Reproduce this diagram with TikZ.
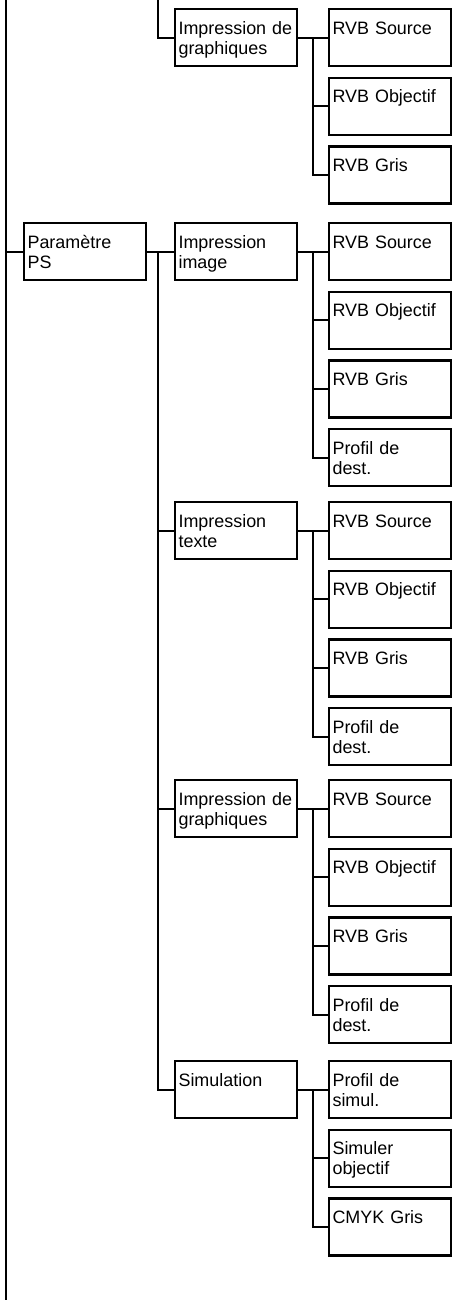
\documentclass[tikz,border=0pt]{standalone}
\usepackage{fontspec}
\setmainfont{Liberation Sans}
\usetikzlibrary{positioning}

\begin{document}
\begin{tikzpicture}[
  every node/.style={font=\fontsize{10.2}{11.4}\selectfont},
  cell/.style={draw, line width=1.2pt, anchor=north west, align=left,
    text width=2.3cm, inner xsep=0.07cm, inner ysep=0pt,
    text height=0.5cm, text depth=0.64cm},
  tl/.style={line width=1.2pt}
]
\useasboundingbox (0,0) rectangle (9.12,-26.06);
\def\xa{0.46}\def\xb{3.48}\def\xc{6.56}\def\dy{1.374}
% spines
\coordinate (s1) at (0.12,0);
\coordinate (s1end) at (0.12,-26.0);
\coordinate (s2) at (3.16,0);
\coordinate (s3) at (6.26,0);
% group carried over from the page before
\node[cell] (gtop) at (\xb,-0.16) {Impression de\\ graphiques};
\foreach \t [count=\i] in {RVB Source, RVB Objectif, RVB Gris}
  \node[cell] (a\i) at (\xc,{-0.16-(\i-1)*\dy}) {\t};
% PS settings
\node[cell] (ps) at (\xa,-4.44) {Paramètre\\ PS};
\node[cell] (img) at (\xb,-4.44) {Impression\\ image};
\foreach \t [count=\i] in {RVB Source, RVB Objectif, RVB Gris, {Profil de\\ dest.}}
  \node[cell] (b\i) at (\xc,{-4.44-(\i-1)*\dy}) {\t};
\node[cell] (txt) at (\xb,-10.02) {Impression\\ texte};
\foreach \t [count=\i] in {RVB Source, RVB Objectif, RVB Gris, {Profil de\\ dest.}}
  \node[cell] (c\i) at (\xc,{-10.02-(\i-1)*\dy}) {\t};
\node[cell] (gra) at (\xb,-15.58) {Impression de\\ graphiques};
\foreach \t [count=\i] in {RVB Source, RVB Objectif, RVB Gris, {Profil de\\ dest.}}
  \node[cell] (d\i) at (\xc,{-15.58-(\i-1)*\dy}) {\t};
\node[cell] (sim) at (\xb,-21.2) {Simulation};
\foreach \t [count=\i] in {{Profil de\\ simul.}, {Simuler\\ objectif}, CMYK Gris}
  \node[cell] (e\i) at (\xc,{-21.2-(\i-1)*\dy}) {\t};
% level 1
\draw[tl] (s1) -- (s1end);
\draw[tl] (ps.west -| s1) -- (ps.west);
% level 2
\draw[tl] (s2) |- (gtop.west);
\draw[tl] (ps.east) -- (img.west);
\foreach \p in {txt, gra, sim}
  \draw[tl] (ps.east -| s2) |- (\p.west);
% level 3
\foreach \p/\c/\n in {gtop/a/3, img/b/4, txt/c/4, gra/d/4, sim/e/3}{
  \draw[tl] (\p.east) -- (\c1.west);
  \foreach \i in {2,...,\n}
    \draw[tl] (\c1.west -| s3) |- (\c\i.west);
}
\end{tikzpicture}
\end{document}
